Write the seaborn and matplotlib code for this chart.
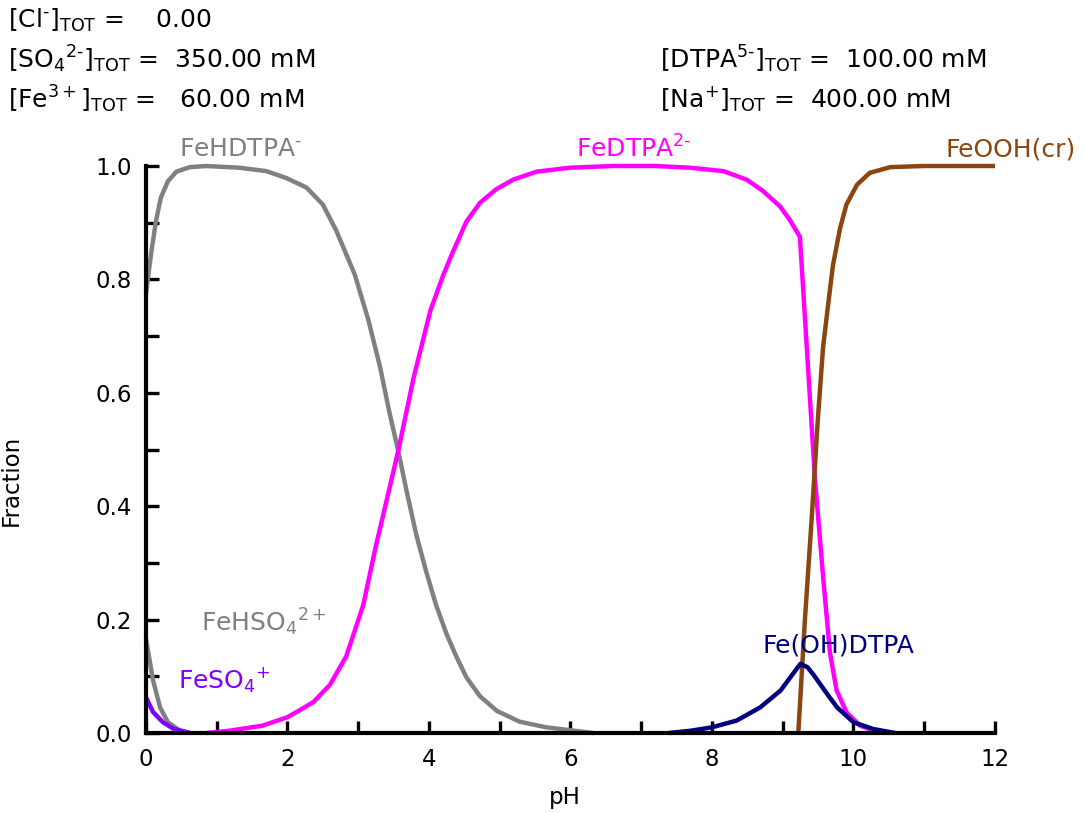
import numpy as np
import pandas as pd
import seaborn as sns
import matplotlib.pyplot as plt
from matplotlib.ticker import MultipleLocator

# dados (pH, fracao)
ph_fehdtpa = [0, 0.07, 0.14, 0.21, 0.31, 0.43, 0.62, 0.85, 1.32, 1.7, 1.98, 2.27, 2.5, 2.69,
              2.95, 3.14, 3.31, 3.44, 3.57, 3.68, 3.82, 3.96, 4.1, 4.25, 4.39, 4.53, 4.72,
              4.96, 5.28, 5.66, 6.32]
fr_fehdtpa = [0.775, 0.843, 0.902, 0.944, 0.973, 0.99, 0.998, 1.0, 0.997, 0.991, 0.979,
              0.962, 0.932, 0.886, 0.809, 0.73, 0.645, 0.566, 0.495, 0.429, 0.35, 0.285,
              0.226, 0.174, 0.134, 0.098, 0.065, 0.039, 0.02, 0.01, 0.0]

ph_fedtpa = [0.85, 1.18, 1.65, 2.0, 2.17, 2.37, 2.6, 2.83, 3.07, 3.25, 3.42, 3.57, 3.78,
             4.02, 4.2, 4.34, 4.53, 4.72, 4.95, 5.19, 5.52, 5.99, 6.6, 7.2, 7.69, 8.16,
             8.49, 8.72, 8.96, 9.1, 9.243, 9.455, 9.573, 9.668, 9.762, 9.904, 10.092, 10.375]
fr_fedtpa = [0.0, 0.004, 0.013, 0.028, 0.04, 0.055, 0.085, 0.135, 0.225, 0.33, 0.42, 0.5,
             0.625, 0.745, 0.807, 0.849, 0.902, 0.935, 0.959, 0.976, 0.99, 0.997, 1.0, 1.0,
             0.997, 0.991, 0.976, 0.956, 0.929, 0.905, 0.875, 0.449, 0.272, 0.141, 0.075,
             0.036, 0.013, 0.0]

ph_feooh = [9.22, 9.31, 9.41, 9.5, 9.57, 9.64, 9.71, 9.81, 9.9, 10.05, 10.23, 10.52, 10.99, 12.0]
fr_feooh = [0.0, 0.193, 0.38, 0.56, 0.68, 0.754, 0.825, 0.89, 0.932, 0.967, 0.988, 0.998,
            1.0, 1.0]

ph_feohdtpa = [7.39, 7.7, 8.0, 8.35, 8.68, 8.97, 9.16, 9.25, 9.35, 9.44, 9.53, 9.65, 9.77,
               10.0, 10.28, 10.59]
fr_feohdtpa = [0.0, 0.004, 0.01, 0.022, 0.045, 0.075, 0.107, 0.122, 0.116, 0.102, 0.086,
               0.065, 0.045, 0.019, 0.007, 0.0]

ph_fehso4 = [0, 0.1, 0.2, 0.31, 0.48, 0.62]
fr_fehso4 = [0.166, 0.093, 0.045, 0.019, 0.004, 0.0]

ph_feso4 = [0, 0.1, 0.24, 0.38, 0.62]
fr_feso4 = [0.063, 0.037, 0.019, 0.008, 0.0]

series = [
    (r'FeHDTPA$^{\text{-}}$', ph_fehdtpa, fr_fehdtpa, '#808080', (1.33, 1.03)),
    (r'FeDTPA$^{2\text{-}}$', ph_fedtpa, fr_fedtpa, '#ff00ff', (6.9, 1.03)),
    ('FeOOH(cr)', ph_feooh, fr_feooh, '#8b4510', (12.22, 1.03)),
    ('Fe(OH)DTPA', ph_feohdtpa, fr_feohdtpa, '#000080', (9.79, 0.154)),
    ('FeHSO$_4$$^{2+}$', ph_fehso4, fr_fehso4, '#808080', (1.67, 0.195)),
    ('FeSO$_4$$^{+}$', ph_feso4, fr_feso4, '#8000ff', (1.11, 0.093)),
]

sns.set_style('ticks')
plt.rcParams['font.family'] = ['DejaVu Sans']
plt.rcParams['mathtext.default'] = 'regular'
plt.rcParams['text.color'] = 'black'
plt.rcParams['axes.labelcolor'] = 'black'

fig = plt.figure(figsize=(10.86, 8.13), dpi=100)
ax = fig.add_axes([0.1344, 0.0984, 0.7818, 0.6974])

for nome, ph, fr, cor, pos in series:
    df = pd.DataFrame({'pH': ph, 'Fraction': fr})
    sns.lineplot(data=df, x='pH', y='Fraction', ax=ax, color=cor, lw=3.2,
                 estimator=None, sort=False, clip_on=False,
                 solid_joinstyle='round', solid_capstyle='butt')
    ax.text(pos[0], pos[1], nome, color=cor, fontsize=18, ha='center', va='center',
            clip_on=False)

ax.set_xlim(0, 12)
ax.set_ylim(0, 1)
ax.xaxis.set_major_locator(MultipleLocator(2))
ax.xaxis.set_minor_locator(MultipleLocator(1))
ax.yaxis.set_major_locator(MultipleLocator(0.2))
ax.yaxis.set_minor_locator(MultipleLocator(0.1))
ax.yaxis.set_major_formatter(plt.FormatStrFormatter('%.1f'))
ax.tick_params(which='both', direction='in', width=2.4, colors='black',
               labelsize=16.5, length=9, bottom=True, left=True)
ax.tick_params(axis='x', pad=11)
ax.tick_params(axis='y', pad=10)
for lado in ['top', 'right']:
    ax.spines[lado].set_visible(False)
for lado in ['left', 'bottom']:
    ax.spines[lado].set_linewidth(3)
    ax.spines[lado].set_color('black')
ax.set_xlabel('pH', fontsize=16.5)
ax.set_ylabel('Fraction', fontsize=16.5)
ax.xaxis.set_label_coords(0.4935, -0.093)
ax.yaxis.set_label_coords(-0.145, 0.446)

# textos do cabecalho
fs = 18
fig.text(0.0074, 1 - 28 / 813, r'[Cl$^{\text{-}}$]$_{TOT}$ =    0.00', fontsize=fs, va='baseline')
fig.text(0.0074, 1 - 68 / 813, r'[SO$_4$$^{2\text{-}}$]$_{TOT}$ =  350.00 mM', fontsize=fs,
         va='baseline')
fig.text(0.0074, 1 - 108 / 813, r'[Fe$^{3+}$]$_{TOT}$ =   60.00 mM', fontsize=fs, va='baseline')
fig.text(0.608, 1 - 68 / 813, r'[DTPA$^{5\text{-}}$]$_{TOT}$ =  100.00 mM', fontsize=fs,
         va='baseline')
fig.text(0.608, 1 - 108 / 813, r'[Na$^{+}$]$_{TOT}$ =  400.00 mM', fontsize=fs, va='baseline')

plt.savefig('out.png', dpi=100)
plt.close()
